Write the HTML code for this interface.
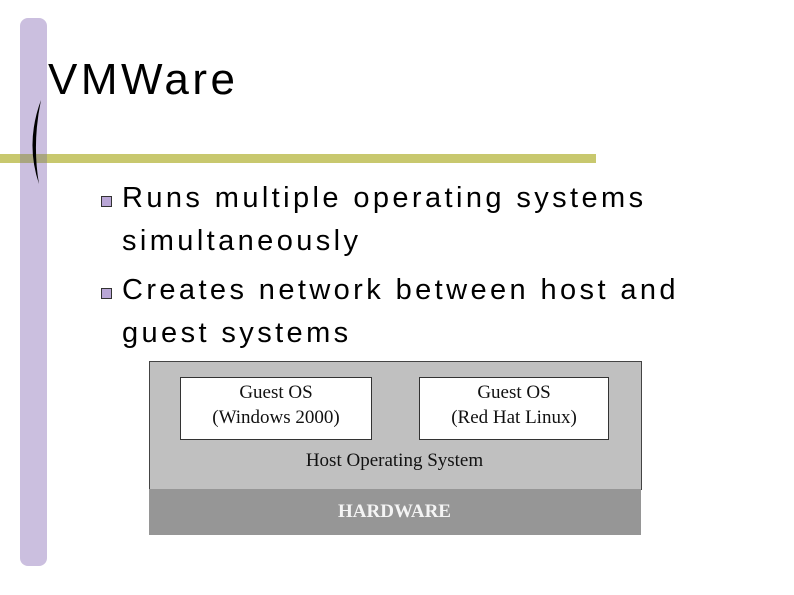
<!DOCTYPE html>
<html><head><style>
body{margin:0;width:794px;height:595px;background:#fff;position:relative;overflow:hidden;font-family:"Liberation Sans",sans-serif}
.a{position:absolute}
.t{font-size:29px;color:#000;white-space:nowrap;letter-spacing:3.4px}
.b{width:9px;height:9px;background:#b9a6d6;border:1px solid #333}
.s{font-family:"Liberation Serif",serif;font-size:19px;text-align:center;color:#111;line-height:25px}
</style></head><body>
<div class="a" style="left:20px;top:18px;width:27px;height:548px;background:#cbbfdf;border-radius:8px"></div>
<div class="a" style="left:0;top:154px;width:596px;height:9px;background:#c8c86e"></div>
<div class="a" style="left:20px;top:154px;width:27px;height:9px;background:#a9a57f"></div>
<svg class="a" style="left:25px;top:98px" width="22" height="90"><path d="M16 2 Q0 45 14 86 Q7 45 16 2Z" fill="#000"/></svg>
<div class="a" style="left:48px;top:55px;font-size:44px;letter-spacing:3.5px">VMWare</div>
<div class="a b" style="left:101px;top:196px"></div>
<div class="a t" style="left:122px;top:182px">Runs multiple operating systems</div>
<div class="a t" style="left:122px;top:225px">simultaneously</div>
<div class="a b" style="left:101px;top:288px"></div>
<div class="a t" style="left:122px;top:274px">Creates network between host and</div>
<div class="a t" style="left:122px;top:317px">guest systems</div>
<div class="a" style="left:149px;top:361px;width:491px;height:127px;background:#c0c0c0;border:1px solid #444"></div>
<div class="a" style="left:149px;top:489px;width:492px;height:46px;background:#969696"></div>
<div class="a s" style="left:180px;top:377px;width:192px;height:63px;background:#fff;border:1px solid #333;padding-top:2px;box-sizing:border-box">Guest OS<br>(Windows 2000)</div>
<div class="a s" style="left:419px;top:377px;width:190px;height:63px;background:#fff;border:1px solid #333;padding-top:2px;box-sizing:border-box">Guest OS<br>(Red Hat Linux)</div>
<div class="a s" style="left:149px;top:448px;width:491px">Host Operating System</div>
<div class="a s" style="left:149px;top:499px;width:491px;color:#f4f4f4;font-weight:bold">HARDWARE</div>
</body></html>
